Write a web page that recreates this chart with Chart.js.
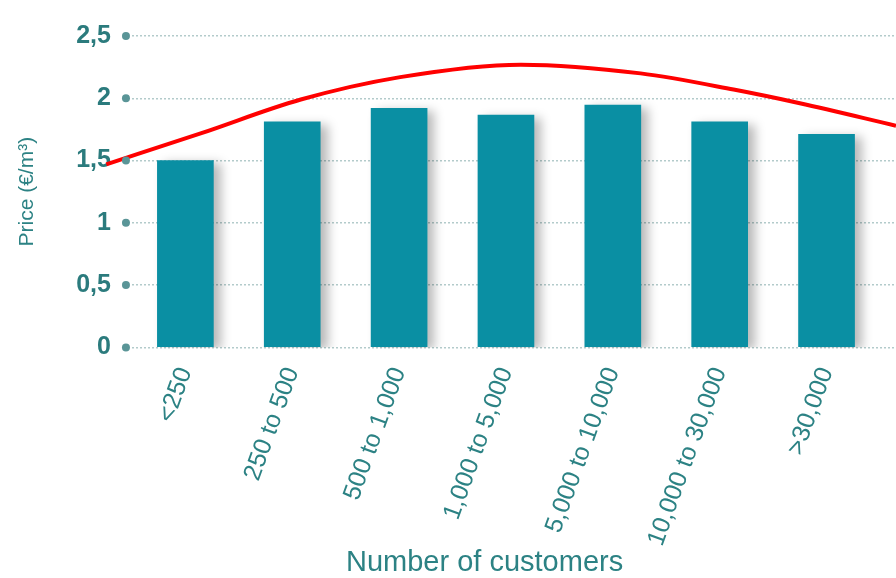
<!DOCTYPE html>
<html>
<head>
<meta charset="utf-8">
<script src="https://cdn.jsdelivr.net/npm/chart.js@4"></script>
<style>
html,body{margin:0;padding:0;background:#fff;}
#wrap{width:896px;height:578px;position:relative;}
</style>
</head>
<body>
<div id="wrap"><canvas id="c" width="896" height="578"></canvas></div>
<script>
// ---- data ----
const categories = ['<250', '250 to 500', '500 to 1,000', '1,000 to 5,000', '5,000 to 10,000', '10,000 to 30,000', '>30,000'];
const prices = [1.50, 1.81, 1.92, 1.865, 1.945, 1.81, 1.71];
const yTickLabels = ['0', '0,5', '1', '1,5', '2', '2,5'];
// trend curve (x in category-index units, y in €/m³)
const trendX = [-0.74, 0.15, 1.08, 2.01, 3.14, 4.26, 5.13, 5.75, 6.65];
const trendY = [1.47, 1.72, 1.99, 2.17, 2.27, 2.20, 2.07, 1.96, 1.78];
const xTitle = 'Number of customers';
const yTitle = 'Price (€/m³)';

const TEAL_TEXT = '#2c8284';

const barShadow = {
  id: 'barShadow',
  beforeDatasetDraw(chart, args) {
    if (args.index !== 1) return;
    const ctx = chart.ctx;
    ctx.save();
    ctx.shadowColor = 'rgba(0,0,0,0.28)';
    ctx.shadowBlur = 10;
    ctx.shadowOffsetX = 7;
    ctx.shadowOffsetY = 3;
  },
  afterDatasetDraw(chart, args) {
    if (args.index !== 1) return;
    chart.ctx.restore();
  }
};

const tickDots = {
  id: 'tickDots',
  afterDraw(chart) {
    const y = chart.scales.y;
    const ctx = chart.ctx;
    ctx.save();
    ctx.fillStyle = '#5a9597';
    y.ticks.forEach(t => {
      const py = y.getPixelForValue(t.value);
      ctx.beginPath();
      ctx.arc(chart.chartArea.left - 6, py, 4, 0, Math.PI * 2);
      ctx.fill();
    });
    ctx.restore();
  }
};

const xTitlePlugin = {
  id: 'xTitlePlugin',
  afterDraw(chart) {
    const ctx = chart.ctx;
    const x = chart.scales.x.getPixelForValue(2.8);
    ctx.save();
    ctx.font = '29px "Liberation Sans", Arial, sans-serif';
    ctx.fillStyle = TEAL_TEXT;
    ctx.textAlign = 'center';
    ctx.textBaseline = 'alphabetic';
    ctx.fillText(xTitle, x, 571);
    ctx.restore();
  }
};

new Chart(document.getElementById('c'), {
  type: 'bar',
  data: {
    datasets: [
      {
        type: 'line',
        label: 'trend',
        data: trendX.map((x, i) => ({x: x, y: trendY[i]})),
        borderColor: '#ff0000',
        borderWidth: 4,
        pointRadius: 0,
        tension: 0.4,
        cubicInterpolationMode: 'monotone',
        fill: false,
        clip: false,
        order: 0
      },
      {
        type: 'bar',
        label: 'price',
        data: prices.map((v, i) => ({x: i, y: v})),
        backgroundColor: '#0a8fa3',
        borderWidth: 0,
        barThickness: 56,
        order: 1
      }
    ]
  },
  plugins: [barShadow, tickDots, xTitlePlugin],
  options: {
    responsive: false,
    animation: false,
    events: [],
    layout: { padding: { top: 18, left: 0, right: 0, bottom: 12 } },
    plugins: { legend: { display: false }, tooltip: { enabled: false } },
    scales: {
      x: {
        type: 'linear',
        offset: false,
        min: -0.5,
        max: 6.65,
        grid: { display: false, drawTicks: false, offset: false },
        border: { display: false },
        afterBuildTicks(scale) {
          scale.ticks = categories.map((c, i) => ({ value: i }));
        },
        ticks: {
          autoSkip: false,
          minRotation: 70,
          maxRotation: 70,
          padding: 16,
          color: TEAL_TEXT,
          font: { family: '"Liberation Sans", Arial, sans-serif', size: 25 },
          callback: (v) => categories[v]
        }
      },
      y: {
        min: 0,
        max: 2.5,
        grid: { color: '#b3cbcb', lineWidth: 1.5, drawTicks: false },
        border: { display: false, dash: [2, 2] },
        ticks: {
          stepSize: 0.5,
          padding: 21,
          color: '#2b7b7d',
          font: { family: '"Liberation Sans", Arial, sans-serif', size: 25, weight: 'bold' },
          callback: (v, i) => yTickLabels[i]
        },
        title: {
          display: true,
          text: yTitle,
          color: TEAL_TEXT,
          font: { family: '"Liberation Sans", Arial, sans-serif', size: 21 },
          padding: { top: 15, bottom: 15 }
        }
      }
    }
  }
});
</script>
</body>
</html>
